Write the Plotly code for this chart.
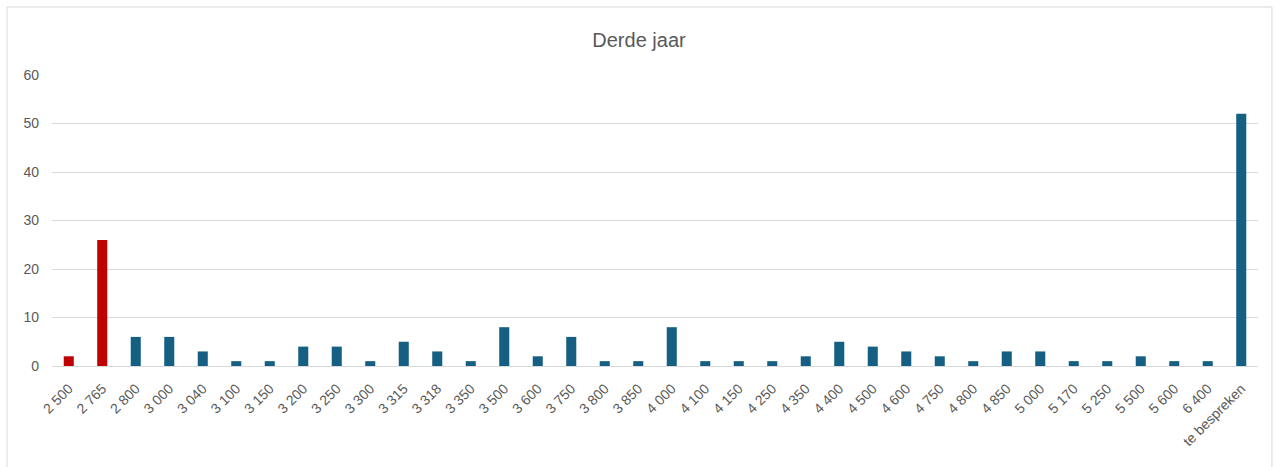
import plotly.graph_objects as go

categories = ["2 500", "2 765", "2 800", "3 000", "3 040", "3 100", "3 150", "3 200", "3 250",
              "3 300", "3 315", "3 318", "3 350", "3 500", "3 600", "3 750", "3 800", "3 850",
              "4 000", "4 100", "4 150", "4 250", "4 350", "4 400", "4 500", "4 600", "4 750",
              "4 800", "4 850", "5 000", "5 170", "5 250", "5 500", "5 600", "6 400", "te bespreken"]
values = [2, 26, 6, 6, 3, 1, 1, 4, 4, 1, 5, 3, 1, 8, 2, 6, 1, 1, 8, 1, 1, 1, 2, 5, 4, 3, 2, 1, 3, 3,
          1, 1, 2, 1, 1, 52]
highlight = ["2 500", "2 765"]

colors = ["#C00000" if c in highlight else "#156082" for c in categories]

fig = go.Figure(go.Bar(x=categories, y=values, marker=dict(color=colors, line=dict(width=0)),
                       width=0.3))

fig.update_layout(
    width=1278, height=467,
    margin=dict(l=52, r=20, t=75, b=101),
    paper_bgcolor="white", plot_bgcolor="white",
    font=dict(family="Liberation Sans, Arial", color="#595959", size=12),
    title=dict(text="Derde jaar", x=0.5, xanchor="center", y=0.915, yanchor="middle",
               font=dict(size=20, color="#595959")),
    showlegend=False,
    bargap=0.7,
    xaxis=dict(type="category", tickangle=-45, showgrid=False, ticks="", automargin=False,
               showline=True, linecolor="#D9D9D9", linewidth=1, ticklabelstandoff=8,
               tickfont=dict(size=14, color="#595959")),
    yaxis=dict(range=[0, 60], dtick=10, showgrid=True, gridcolor="#D9D9D9", gridwidth=1,
               zeroline=False, ticks="", ticklabelstandoff=12, automargin=False,
               tickfont=dict(size=14, color="#595959")),
    shapes=[dict(type="rect", xref="paper", yref="paper", x0=-0.0373, x1=1.0116, y0=-0.4, y1=1.2337,
                 line=dict(color="#D9D9D9", width=1), layer="below")],
)

fig.write_html("out.html", config={"displayModeBar": False},
               post_script="document.body.style.margin='0';")
